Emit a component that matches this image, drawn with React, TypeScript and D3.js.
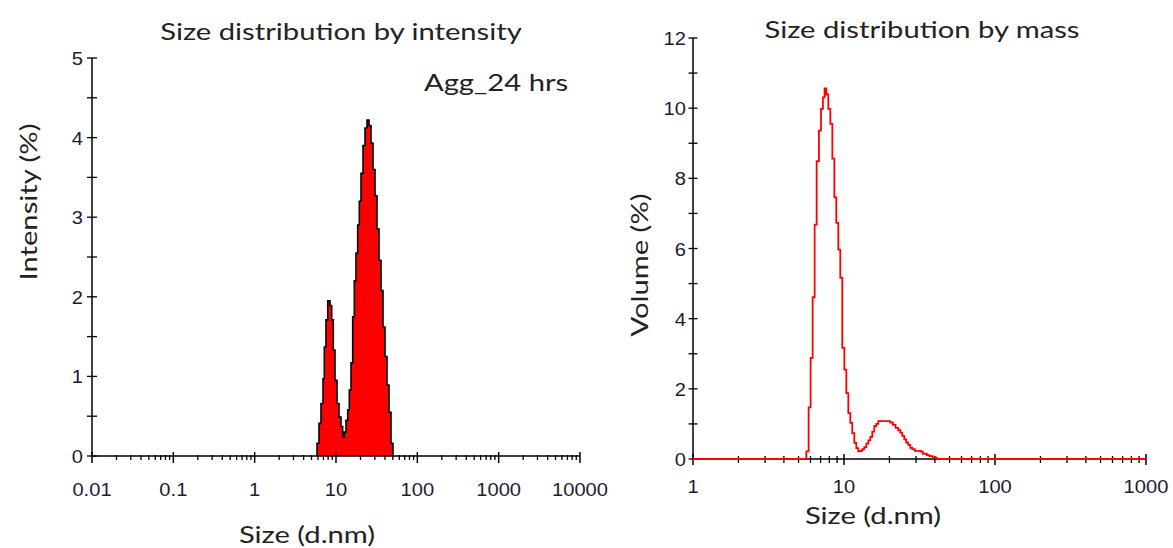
import React from "react";
import * as d3 from "d3";

// ---- Data: intensity distribution (left) ----
const intensitySizes = [5.84, 6.18, 6.54, 6.92, 7.18, 7.53, 7.91, 8.44, 8.85, 9.26, 9.72, 10.29, 10.89, 11.52, 12.08, 12.65, 13.27, 13.93, 14.58, 15.3, 16.04, 16.79, 17.61, 18.48, 19.36, 20.3, 21.49, 22.74, 24.07, 25.47, 26.95, 28.51, 30.17, 31.93, 33.79, 35.76, 37.84, 40.04, 42.37, 44.84, 47.45, 50.2];
const intensityValues = [0.16, 0.41, 0.66, 0.97, 1.37, 1.71, 1.95, 1.89, 1.71, 1.33, 0.95, 0.66, 0.49, 0.37, 0.24, 0.3, 0.45, 0.58, 0.83, 1.17, 1.75, 2.2, 2.55, 2.9, 3.2, 3.55, 3.9, 4.12, 4.22, 4.15, 3.93, 3.6, 3.27, 2.85, 2.46, 2.08, 1.62, 1.25, 0.89, 0.55, 0.16, 0];

// ---- Data: volume (mass) distribution (right) ----
const massSizes = [1, 5.63, 5.83, 6.01, 6.2, 6.39, 6.59, 6.82, 7.04, 7.25, 7.44, 7.64, 7.87, 8.12, 8.37, 8.63, 8.89, 9.17, 9.45, 9.74, 10.05, 10.36, 10.68, 11.01, 11.34, 11.7, 12.06, 12.43, 12.82, 13.21, 13.62, 14.05, 14.48, 14.93, 15.39, 15.87, 16.36, 16.86, 20.24, 21.06, 21.94, 22.87, 23.58, 24.3, 25.06, 25.82, 26.62, 27.45, 28.3, 29.44, 32.26, 33.25, 35.34, 36.82, 38.72, 41.15, 1000];
const massValues = [0, 0.22, 1.47, 2.88, 4.61, 6.68, 8.49, 9.36, 9.98, 10.31, 10.56, 10.39, 9.98, 9.55, 8.56, 7.46, 6.73, 5.97, 5.16, 3.17, 2.55, 1.88, 1.31, 1.03, 0.74, 0.46, 0.31, 0.22, 0.23, 0.28, 0.34, 0.44, 0.53, 0.63, 0.78, 0.94, 1.0, 1.08, 1.04, 0.97, 0.89, 0.82, 0.75, 0.66, 0.56, 0.47, 0.4, 0.32, 0.28, 0.23, 0.21, 0.15, 0.11, 0.08, 0.04, 0, 0];

// ---- Tick labels ----
const leftXTicks = [0.01, 0.1, 1, 10, 100, 1000, 10000];
const leftXTickLabels = ["0.01", "0.1", "1", "10", "100", "1000", "10000"];
const leftYTicks = [0, 1, 2, 3, 4, 5];
const rightXTicks = [1, 10, 100, 1000];
const rightXTickLabels = ["1", "10", "100", "1000"];
const rightYTicks = [0, 2, 4, 6, 8, 10, 12];

const TITLE_FONT = "Lato, 'Open Sans', sans-serif";
const TICK_FONT = "'Liberation Sans', Arial, sans-serif";
const TEXT_COLOR = "#222";
const TICK_COLOR = "#1e1a33";
const TITLE_SIZE = 23;
const TITLE_SX = 1.27;
const TICK_SIZE = 19;
const TICK_SX = 1.06;

function minorTicks(from: number, to: number): number[] {
  const out: number[] = [];
  for (let dec = from; dec < to; dec *= 10) {
    for (let k = 2; k <= 9; k++) out.push(dec * k);
  }
  return out;
}

function SText(props: {
  x: number;
  y: number;
  sx: number;
  rotate?: number;
  anchor?: string;
  font: string;
  size: number;
  fill: string;
  children: React.ReactNode;
}) {
  const rot = props.rotate ? ` rotate(${props.rotate})` : "";
  return (
    <text
      transform={`translate(${props.x},${props.y})${rot} scale(${props.sx},1)`}
      x={0}
      y={0}
      textAnchor={props.anchor || "middle"}
      fontFamily={props.font}
      fontSize={props.size}
      fill={props.fill}
    >
      {props.children}
    </text>
  );
}

export default function App() {
  // Left chart scales
  const lx = d3.scaleLog().domain([0.01, 10000]).range([92, 580]);
  const ly = d3.scaleLinear().domain([0, 5]).range([456, 58]);
  // Right chart scales
  const rx = d3.scaleLog().domain([1, 1000]).range([693, 1146]);
  const ry = d3.scaleLinear().domain([0, 12]).range([459, 38]);

  const intData = intensitySizes.map((s, i) => ({ s, v: intensityValues[i] }));
  const intLineData = [{ s: intensitySizes[0], v: 0 }, ...intData];
  const massData = massSizes.map((s, i) => ({ s, v: massValues[i] }));

  const area = d3
    .area<{ s: number; v: number }>()
    .x((d) => lx(d.s))
    .y0(ly(0))
    .y1((d) => ly(d.v))
    .curve(d3.curveStepAfter);
  const intLine = d3
    .line<{ s: number; v: number }>()
    .x((d) => lx(d.s))
    .y((d) => ly(d.v))
    .curve(d3.curveStepAfter);
  const massLine = d3
    .line<{ s: number; v: number }>()
    .x((d) => rx(d.s))
    .y((d) => ry(d.v))
    .curve(d3.curveStepAfter);

  const leftMinor = minorTicks(0.01, 10000);
  const rightMinor = minorTicks(1, 1000);
  const leftYMinor = d3.range(0, 5.01, 0.5);
  const rightYMinor = d3.range(0, 12.01, 1);

  const y0L = ly(0);
  const y0R = ry(0);

  return (
    <svg
      width={1173}
      height={548}
      style={{ position: "absolute", left: 0, top: 0, background: "#fff" }}
    >
      <rect x={0} y={0} width={1173} height={548} fill="#fff" />

      {/* ===== LEFT CHART ===== */}
      <SText x={341} y={40} sx={TITLE_SX} font={TITLE_FONT} size={TITLE_SIZE} fill={TEXT_COLOR}>
        Size distribution by intensity
      </SText>
      <SText x={496} y={91} sx={TITLE_SX} font={TITLE_FONT} size={TITLE_SIZE} fill={TEXT_COLOR}>
        Agg_24 hrs
      </SText>

      {/* area */}
      <path d={area(intData) || ""} fill="#ff0000" stroke="none" />
      <path d={intLine(intLineData) || ""} fill="none" stroke="#000" strokeWidth={1.6} />

      {/* axes */}
      <line x1={lx(0.01)} x2={lx(10000)} y1={y0L} y2={y0L} stroke="#000" strokeWidth={1.5} />
      <line x1={lx(0.01)} x2={lx(0.01)} y1={ly(0)} y2={ly(5)} stroke="#000" strokeWidth={1.5} />
      {leftMinor.map((t, i) => (
        <line key={"lm" + i} x1={lx(t)} x2={lx(t)} y1={y0L - 1} y2={y0L + 4} stroke="#000" strokeWidth={1.3} />
      ))}
      {leftXTicks.map((t, i) => (
        <line key={"lM" + i} x1={lx(t)} x2={lx(t)} y1={y0L - 4} y2={y0L + 7} stroke="#000" strokeWidth={1.5} />
      ))}
      {leftYMinor.map((t, i) => (
        <line key={"lym" + i} x1={lx(0.01) - 5} x2={lx(0.01) + 5} y1={ly(t)} y2={ly(t)} stroke="#000" strokeWidth={1.3} />
      ))}
      {leftXTicks.map((t, i) => (
        <SText key={"lxl" + i} x={lx(t)} y={496} sx={TICK_SX} font={TICK_FONT} size={TICK_SIZE} fill={TICK_COLOR}>
          {leftXTickLabels[i]}
        </SText>
      ))}
      {leftYTicks.map((t, i) => (
        <SText key={"lyl" + i} x={83} y={ly(t) + 7} sx={TICK_SX} anchor="end" font={TICK_FONT} size={TICK_SIZE} fill={TICK_COLOR}>
          {t}
        </SText>
      ))}
      <SText x={37} y={202} rotate={-90} sx={TITLE_SX} font={TITLE_FONT} size={TITLE_SIZE} fill={TEXT_COLOR}>
        Intensity (%)
      </SText>
      <SText x={307} y={543} sx={TITLE_SX} font={TITLE_FONT} size={TITLE_SIZE} fill={TEXT_COLOR}>
        Size (d.nm)
      </SText>

      {/* ===== RIGHT CHART ===== */}
      <SText x={922} y={38} sx={TITLE_SX} font={TITLE_FONT} size={TITLE_SIZE} fill={TEXT_COLOR}>
        Size distribution by mass
      </SText>

      <line x1={rx(1)} x2={rx(1000)} y1={y0R} y2={y0R} stroke="#000" strokeWidth={1.5} />
      <line x1={rx(1)} x2={rx(1)} y1={ry(0)} y2={ry(12)} stroke="#000" strokeWidth={1.5} />
      {rightMinor.map((t, i) => (
        <line key={"rm" + i} x1={rx(t)} x2={rx(t)} y1={y0R - 3} y2={y0R + 4} stroke="#000" strokeWidth={1.3} />
      ))}
      {rightXTicks.map((t, i) => (
        <line key={"rM" + i} x1={rx(t)} x2={rx(t)} y1={y0R - 5} y2={y0R + 6} stroke="#000" strokeWidth={1.5} />
      ))}
      {rightYMinor.map((t, i) => (
        <line key={"rym" + i} x1={rx(1) - 4.5} x2={rx(1) + 4.5} y1={ry(t)} y2={ry(t)} stroke="#000" strokeWidth={1.3} />
      ))}
      {rightXTicks.map((t, i) => (
        <SText key={"rxl" + i} x={rx(t)} y={493} sx={TICK_SX} font={TICK_FONT} size={TICK_SIZE} fill={TICK_COLOR}>
          {rightXTickLabels[i]}
        </SText>
      ))}
      {rightYTicks.map((t, i) => (
        <SText key={"ryl" + i} x={686} y={ry(t) + 7} sx={TICK_SX} anchor="end" font={TICK_FONT} size={TICK_SIZE} fill={TICK_COLOR}>
          {t}
        </SText>
      ))}

      <path d={massLine(massData) || ""} fill="none" stroke="#ff0000" strokeWidth={1.8} />

      <SText x={648} y={265} rotate={-90} sx={TITLE_SX} font={TITLE_FONT} size={TITLE_SIZE} fill={TEXT_COLOR}>
        Volume (%)
      </SText>
      <SText x={873} y={524} sx={TITLE_SX} font={TITLE_FONT} size={TITLE_SIZE} fill={TEXT_COLOR}>
        Size (d.nm)
      </SText>
    </svg>
  );
}
